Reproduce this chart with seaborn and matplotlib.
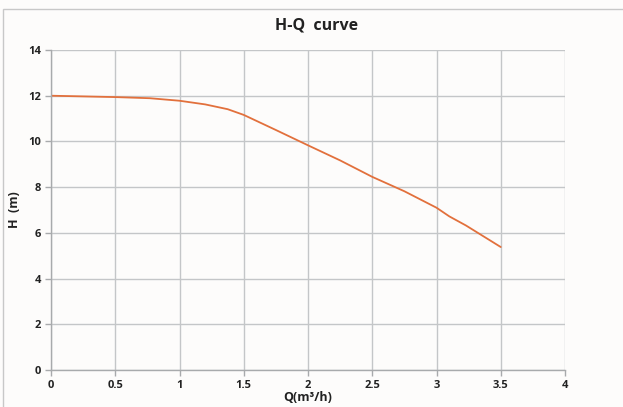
import matplotlib
matplotlib.use("Agg")
import matplotlib.pyplot as plt
import seaborn as sns
import pandas as pd
from matplotlib.patches import Rectangle

flow_q = [0.0, 0.25, 0.5, 0.77, 1.0, 1.2, 1.375, 1.5, 1.75, 2.0, 2.25, 2.5, 2.75, 3.0, 3.1, 3.23, 3.5]
head_h = [12.0, 11.97, 11.94, 11.89, 11.78, 11.62, 11.41, 11.16, 10.5, 9.83, 9.17, 8.45, 7.82, 7.1, 6.72, 6.32, 5.38]
x_ticks = [0, 0.5, 1, 1.5, 2, 2.5, 3, 3.5, 4]
x_tick_labels = ["0", "0.5", "1", "1.5", "2", "2.5", "3", "3.5", "4"]
y_ticks = [0, 2, 4, 6, 8, 10, 12, 14]

sns.set_theme(style="white")
plt.rcParams['font.family'] = ['Open Sans', 'DejaVu Sans']

df = pd.DataFrame({"Q": flow_q, "H": head_h})

bg = "#fdfcfb"
fig = plt.figure(figsize=(6.23, 4.07), dpi=100, facecolor=bg)
ax = fig.add_axes([51/623, 1-370/407, (565-51)/623, (370-50)/407])
ax.set_facecolor(bg)

sns.lineplot(data=df, x="Q", y="H", ax=ax, color="#e2703c", linewidth=1.3)

ax.set_xlim(0, 4)
ax.set_ylim(0, 14)
ax.set_xticks(x_ticks)
ax.set_xticklabels(x_tick_labels)
ax.set_yticks(y_ticks)
ax.grid(True, color="#c4c6c8", linewidth=1.0)
ax.set_axisbelow(True)
for s in ["top", "right"]:
    ax.spines[s].set_visible(False)
for s in ["left", "bottom"]:
    ax.spines[s].set_color("#a8aaac")
    ax.spines[s].set_linewidth(1.0)
ax.tick_params(axis="both", which="both", length=4, width=1, color="#a8aaac",
               labelsize=8, pad=3, direction="out", left=True, bottom=True)
for lab in ax.get_xticklabels() + ax.get_yticklabels():
    lab.set_fontweight("bold")
    lab.set_color("#222222")

ax.set_xlabel("Q(m³/h)", fontsize=9, fontweight="bold", color="#222222", labelpad=0)
ax.set_ylabel("H  (m)", fontsize=9, fontweight="bold", color="#222222")
ax.yaxis.set_label_coords((21 - 51) / 514, 0.5)
fig.text(317/623, 1-25/407, "H-Q  curve", ha="center", va="center",
         fontsize=11.5, fontweight="bold", color="#222222")

fig.patches.append(Rectangle((3/623, -0.1), 1.1, 1.1 - 9/407,
                             transform=fig.transFigure, fill=False,
                             edgecolor="#c8c8c8", linewidth=1.0))

fig.savefig("out.png", dpi=100, facecolor=bg)
